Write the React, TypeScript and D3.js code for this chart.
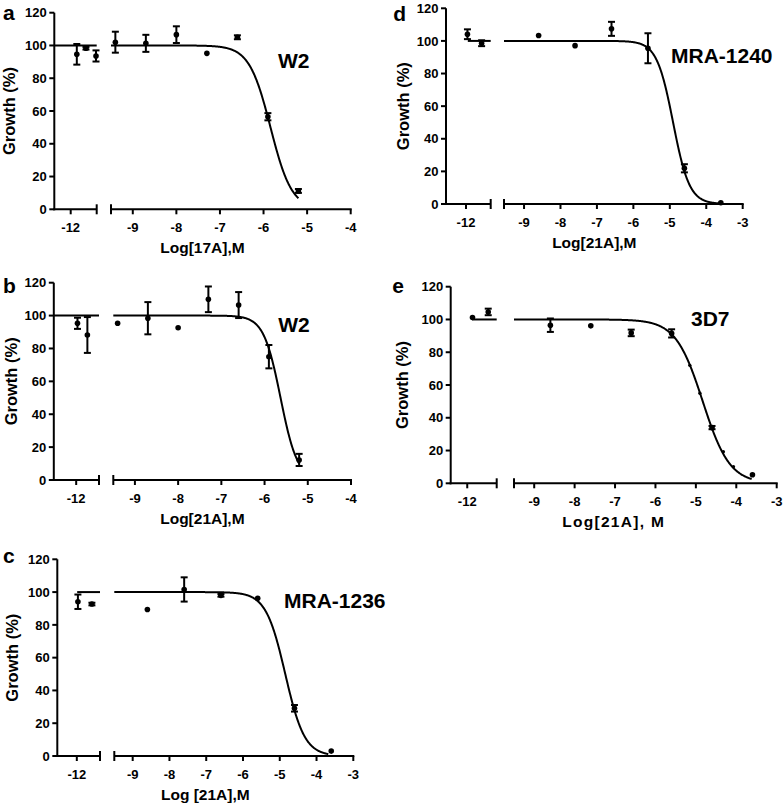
import React from 'react';
import * as d3 from 'd3';

// ---------- DATA ----------
const yTicks = [0, 20, 40, 60, 80, 100, 120];
const leftTicks = [-12];
const rightTicksAB = [-9, -8, -7, -6, -5, -4];
const rightTicksCDE = [-9, -8, -7, -6, -5, -4, -3];

// panel a : 17A vs W2
const aLogConc = [-11.86, -11.65, -11.42, -9.4, -8.7, -8.0, -7.3, -6.6, -5.9, -5.2];
const aGrowth = [94.6, 98.3, 93.6, 102, 101.3, 106.6, 95.2, 105, 56.5, 11.2];
const aSEM = [6.3, 0.8, 3.4, 6.4, 5.2, 5.1, 0, 1.2, 2.2, 1.2];
const aFit = { logIC50: -5.84, hill: 1.78, from: -9.5, to: -5.2 };

// panel b : 21A vs W2
const bLogConc = [-11.97, -11.74, -9.4, -8.7, -8.0, -7.3, -6.6, -5.9, -5.2];
const bGrowth = [95.3, 88.2, 95.3, 98.4, 92.6, 109.9, 106.4, 75, 12.2];
const bSEM = [3.4, 10.9, 0, 9.8, 0, 7.8, 7.9, 7.1, 3.7];
const bFit = { logIC50: -5.63, hill: 2.22, from: -9.5, to: -5.2 };

// panel c : 21A vs MRA-1236
const cLogConc = [-11.97, -11.59, -8.6, -7.6, -6.6, -5.6, -4.6, -3.6];
const cGrowth = [94.1, 92.7, 89.4, 101.6, 98, 96.2, 29.1, 3.0];
const cSEM = [4.4, 0.8, 0, 7.4, 0.8, 0, 2, 0];
const cFit = { logIC50: -4.85, hill: 1.65, from: -9.5, to: -3.68 };

// panel d : 21A vs MRA-1240
const dLogConc = [-11.96, -11.57, -8.6, -7.6, -6.6, -5.6, -4.6, -3.6];
const dGrowth = [104.1, 98.6, 103.3, 97.1, 107.4, 95.5, 21.9, 0.8];
const dSEM = [3, 1.8, 0, 0, 4.3, 9.2, 2.5, 0];
const dFit = { logIC50: -4.91, hill: 1.94, from: -9.55, to: -3.6 };

// panel e : 21A vs 3D7
const eLogConc = [-11.87, -11.48, -8.6, -7.6, -6.6, -5.6, -4.6, -3.6];
const eGrowth = [101.2, 104.6, 96.5, 96.1, 91.8, 91.5, 34, 5.2];
const eSEM = [0, 2, 4.1, 0, 2, 2.5, 1, 0];
const eMinorLogConc = [-5.15, -4.9, -4.32, -4.07];
const eMinorGrowth = [72, 55, 19.3, 10.1];
const eFit = { logIC50: -4.83, hill: 1.3, from: -9.5, to: -3.62 };

// ---------- LAYOUT ----------
const panels = [
  {
    letter: 'a', strain: 'W2', xTitle: 'Log[17A],M', titleSpacing: 0,
    x: aLogConc, y: aGrowth, err: aSEM, fit: aFit, minorX: [], minorY: [],
    axisX: 54.3, yTop: 12.7, yBottom: 209.3,
    leftDomain: [-12.376, -11.404], leftEnd: 96.7, leftLineFrom: -12.376,
    rightDomain: [-9.5, -4], rightRange: [111, 350.7], rightTicks: rightTicksAB,
    letterPos: [3, 20], strainPos: [278, 68.3], yTitleX: 15,
  },
  {
    letter: 'b', strain: 'W2', xTitle: 'Log[21A],M', titleSpacing: 0,
    x: bLogConc, y: bGrowth, err: bSEM, fit: bFit, minorX: [], minorY: [],
    axisX: 53.8, yTop: 282.7, yBottom: 480,
    leftDomain: [-12.52, -11.47], leftEnd: 99, leftLineFrom: -12.52,
    rightDomain: [-9.5, -4], rightRange: [113.3, 351], rightTicks: rightTicksAB,
    letterPos: [3, 293.3], strainPos: [278.3, 332.3], yTitleX: 17,
  },
  {
    letter: 'c', strain: 'MRA-1236', xTitle: 'Log [21A],M', titleSpacing: 0,
    x: cLogConc, y: cGrowth, err: cSEM, fit: cFit, minorX: [], minorY: [],
    axisX: 57.3, yTop: 559.3, yBottom: 756,
    leftDomain: [-12.53, -11.37], leftEnd: 100, leftLineFrom: -11.99,
    rightDomain: [-9.5, -3], rightRange: [114.3, 353.3], rightTicks: rightTicksCDE,
    letterPos: [3, 563.3], strainPos: [284, 608], yTitleX: 18.3,
  },
  {
    letter: 'd', strain: 'MRA-1240', xTitle: 'Log[21A],M', titleSpacing: 0,
    x: dLogConc, y: dGrowth, err: dSEM, fit: dFit, minorX: [], minorY: [],
    axisX: 446, yTop: 8.3, yBottom: 204,
    leftDomain: [-12.55, -11.32], leftEnd: 490.7, leftLineFrom: -11.95,
    rightDomain: [-9.55, -3], rightRange: [504, 742.7], rightTicks: rightTicksCDE,
    letterPos: [393.3, 20.7], strainPos: [671, 63.3], yTitleX: 409,
  },
  {
    letter: 'e', strain: '3D7', xTitle: 'Log[21A], M', titleSpacing: 1.3,
    x: eLogConc, y: eGrowth, err: eSEM, fit: eFit, minorX: eMinorLogConc, minorY: eMinorGrowth,
    axisX: 450.7, yTop: 286.7, yBottom: 483.3,
    leftDomain: [-12.41, -11.27], leftEnd: 496.7, leftLineFrom: -11.88,
    rightDomain: [-9.5, -3], rightRange: [514, 776.7], rightTicks: rightTicksCDE,
    letterPos: [392.3, 292.7], strainPos: [691, 325.7], yTitleX: 408,
  },
];

const FONT = '"Liberation Sans", Arial, Helvetica, sans-serif';
const INK = '#000';

function hillModel(x: number, logIC50: number, hill: number) {
  return 100 / (1 + Math.pow(10, (x - logIC50) * hill));
}

function Panel({ p }: { p: any }) {
  const y = d3.scaleLinear().domain([0, 120]).range([p.yBottom, p.yTop]);
  const xl = d3.scaleLinear().domain(p.leftDomain).range([p.axisX, p.leftEnd]);
  const xr = d3.scaleLinear().domain(p.rightDomain).range(p.rightRange);
  const xAt = (v: number) => (v < -10.5 ? xl(v) : xr(v));

  const samples = d3.range(p.fit.from, p.fit.to, 0.01).concat([p.fit.to]);
  const line = d3
    .line<number>()
    .x((v) => xr(v))
    .y((v) => y(hillModel(v, p.fit.logIC50, p.fit.hill)))
    .curve(d3.curveLinear);

  const yMid = (p.yTop + p.yBottom) / 2;
  const xMid = (p.axisX + p.rightRange[1]) / 2;
  const yb = p.yBottom;

  return (
    <g>
      {/* y axis */}
      <line x1={p.axisX} x2={p.axisX} y1={yb + 1} y2={p.yTop} stroke={INK} strokeWidth={2} />
      {yTicks.map((t) => (
        <g key={'yt' + t}>
          <line x1={p.axisX - 5} x2={p.axisX} y1={y(t)} y2={y(t)} stroke={INK} strokeWidth={2} />
          <text x={p.axisX - 7.5} y={y(t)} dy="0.36em" textAnchor="end" fontSize={13} fontWeight="bold" fontFamily={FONT} fill={INK}>
            {t}
          </text>
        </g>
      ))}
      {/* x axis left segment */}
      <line x1={p.axisX - 1} x2={p.leftEnd} y1={yb} y2={yb} stroke={INK} strokeWidth={2} />
      <line x1={p.leftEnd} x2={p.leftEnd} y1={yb - 5} y2={yb + 5} stroke={INK} strokeWidth={2} />
      {leftTicks.map((t) => (
        <g key={'lt' + t}>
          <line x1={xl(t)} x2={xl(t)} y1={yb} y2={yb + 5} stroke={INK} strokeWidth={2} />
          <text x={xl(t)} y={yb + 22.5} textAnchor="middle" fontSize={13} fontWeight="bold" fontFamily={FONT} fill={INK}>
            {t}
          </text>
        </g>
      ))}
      {/* x axis right segment */}
      <line x1={p.rightRange[0]} x2={p.rightRange[1] + 1} y1={yb} y2={yb} stroke={INK} strokeWidth={2} />
      <line x1={p.rightRange[0]} x2={p.rightRange[0]} y1={yb - 5} y2={yb + 5} stroke={INK} strokeWidth={2} />
      {p.rightTicks.map((t: number) => (
        <g key={'rt' + t}>
          <line x1={xr(t)} x2={xr(t)} y1={yb} y2={yb + 5} stroke={INK} strokeWidth={2} />
          <text x={xr(t)} y={yb + 22.5} textAnchor="middle" fontSize={13} fontWeight="bold" fontFamily={FONT} fill={INK}>
            {t}
          </text>
        </g>
      ))}
      {/* axis titles */}
      <text x={xMid} y={yb + 44} textAnchor="middle" fontSize={15.5} fontWeight="bold" fontFamily={FONT} fill={INK} letterSpacing={p.titleSpacing}>
        {p.xTitle}
      </text>
      <text transform={`translate(${p.yTitleX},${yMid}) rotate(-90)`} textAnchor="middle" fontSize={16.5} fontWeight="bold" fontFamily={FONT} fill={INK}>
        Growth (%)
      </text>
      {/* panel letter and strain */}
      <text x={p.letterPos[0]} y={p.letterPos[1]} fontSize={21} fontWeight="bold" fontFamily={FONT} fill={INK}>
        {p.letter}
      </text>
      <text x={p.strainPos[0]} y={p.strainPos[1]} fontSize={21} fontWeight="bold" fontFamily={FONT} fill={INK}>
        {p.strain}
      </text>
      {/* fitted curve */}
      <line x1={xl(p.leftLineFrom)} x2={p.leftEnd} y1={y(100)} y2={y(100)} stroke={INK} strokeWidth={2} />
      <path d={line(samples) || ''} fill="none" stroke={INK} strokeWidth={2} />
      {/* error bars */}
      {p.x.map((v: number, i: number) =>
        p.err[i] > 0 ? (
          <g key={'e' + i}>
            <line x1={xAt(v)} x2={xAt(v)} y1={y(p.y[i] - p.err[i])} y2={y(p.y[i] + p.err[i])} stroke={INK} strokeWidth={2} />
            <line x1={xAt(v) - 3.5} x2={xAt(v) + 3.5} y1={y(p.y[i] - p.err[i])} y2={y(p.y[i] - p.err[i])} stroke={INK} strokeWidth={2} />
            <line x1={xAt(v) - 3.5} x2={xAt(v) + 3.5} y1={y(p.y[i] + p.err[i])} y2={y(p.y[i] + p.err[i])} stroke={INK} strokeWidth={2} />
          </g>
        ) : null
      )}
      {/* points */}
      {p.x.map((v: number, i: number) => (
        <circle key={'p' + i} cx={xAt(v)} cy={y(p.y[i])} r={2.8} fill={INK} />
      ))}
      {p.minorX.map((v: number, i: number) => (
        <circle key={'m' + i} cx={xr(v)} cy={y(p.minorY[i])} r={1.7} fill={INK} />
      ))}
    </g>
  );
}

export default function App() {
  return (
    <svg
      width={784}
      height={804}
      viewBox="0 0 784 804"
      style={{ position: 'absolute', left: 0, top: 0, background: '#fff' }}
    >
      <rect x={0} y={0} width={784} height={804} fill="#fff" />
      {panels.map((p) => (
        <Panel key={p.letter} p={p} />
      ))}
    </svg>
  );
}
